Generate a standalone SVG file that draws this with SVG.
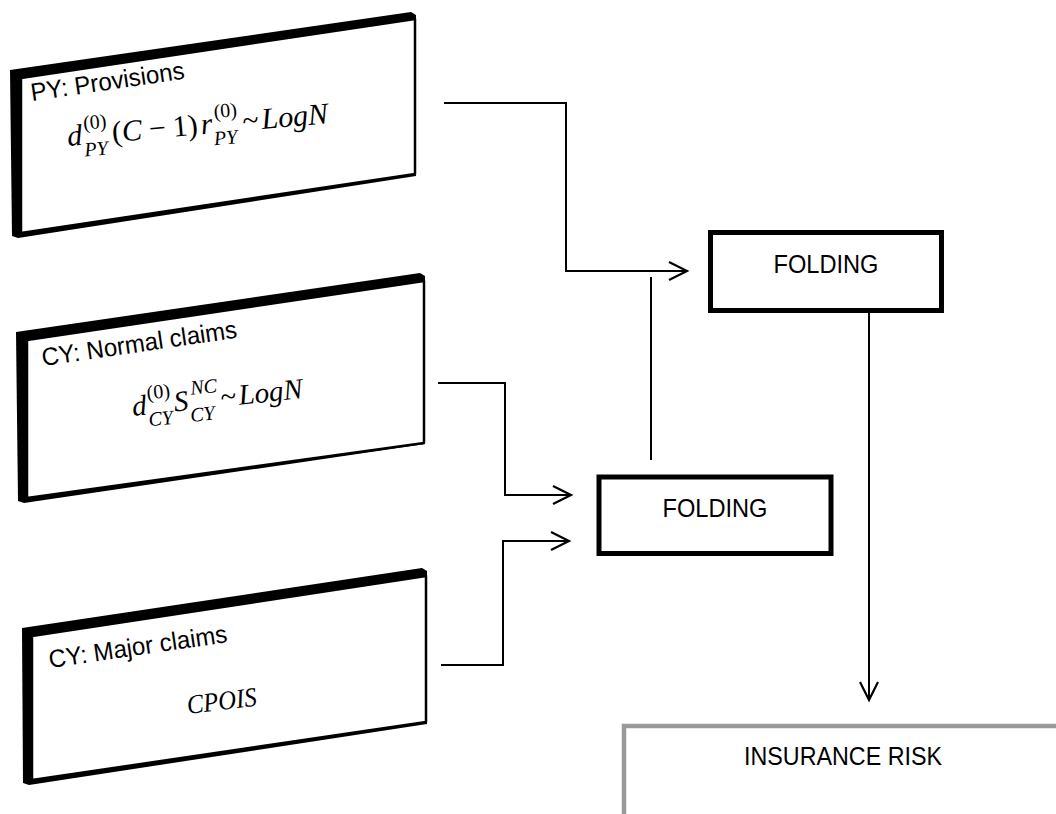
<svg xmlns="http://www.w3.org/2000/svg" width="1056" height="814" viewBox="0 0 1056 814">
  <defs>
    <marker id="chev" markerUnits="userSpaceOnUse" markerWidth="24" markerHeight="24" viewBox="-20 -12 24 24" refX="0" refY="0" orient="auto">
      <path d="M-18,-9 L0,0 L-18,9" fill="none" stroke="#000" stroke-width="2.2" stroke-linejoin="miter"/>
    </marker>
    <style>
      .back { fill: #000; }
      .face { fill: #fff; stroke: #000; stroke-width: 2.5; stroke-linejoin: round; }
      .lbl { font-family: "Liberation Sans", Arial, sans-serif; font-size: 25px; fill: #000; }
      .math { font-family: "Liberation Serif", "Times New Roman", serif; font-style: italic; font-size: 30px; fill: #000; }
      .up { font-style: normal; }
      .scr { font-size: 20px; }
      .conn { fill: none; stroke: #000; stroke-width: 2; }
      .fold { fill: #fff; stroke: #000; stroke-width: 5; }
      .risk { fill: #fff; stroke: #9a9a9a; stroke-width: 4.5; }
      .box-txt { font-family: "Liberation Sans", Arial, sans-serif; font-size: 25px; fill: #000; text-anchor: middle; }
    </style>
  </defs>

  <!-- prior-year provisions slab -->
  <g id="py-provisions">
    <polygon class="back" points="10,70 411,12 416,15 416,176 18,238 12,236"/>
    <polygon class="face" points="21,78 415,19 415,174 21,233"/>
    <text class="lbl" transform="translate(32,101) rotate(-8.3)" textLength="155" lengthAdjust="spacingAndGlyphs">PY: Provisions</text>
    <g class="math" transform="translate(68,146) rotate(-5)">
      <text x="0" y="0">d</text>
      <text class="up scr" x="17" y="-15">(0)</text>
      <text class="scr" x="16" y="12">PY</text>
      <text class="up" x="45" y="0">(</text>
      <text x="55" y="0">C</text>
      <text class="up" x="82" y="0">−</text>
      <text class="up" x="106" y="0">1</text>
      <text class="up" x="121" y="0">)</text>
      <text x="134" y="0">r</text>
      <text class="up scr" x="148" y="-15">(0)</text>
      <text class="scr" x="146" y="12">PY</text>
      <text class="up" x="176" y="0">~</text>
      <text x="195" y="0">LogN</text>
    </g>
  </g>

  <!-- current-year normal claims slab -->
  <g id="cy-normal">
    <polygon class="back" points="16,332 420,273 425,276 425,444 24,503 18,501"/>
    <polygon class="face" points="27,340 424,281 424,443 27,498"/>
    <text class="lbl" transform="translate(43,366) rotate(-8.3)" textLength="197" lengthAdjust="spacingAndGlyphs">CY: Normal claims</text>
    <g class="math" transform="translate(133,416) rotate(-6)" style="font-size:29px">
      <text x="0" y="0">d</text>
      <text class="up scr" x="16" y="-15">(0)</text>
      <text class="scr" x="15" y="12">CY</text>
      <text x="42" y="0">S</text>
      <text class="scr" x="60" y="-15">NC</text>
      <text class="scr" x="57" y="12">CY</text>
      <text class="up" x="89" y="0">~</text>
      <text x="107" y="0">LogN</text>
    </g>
  </g>

  <!-- current-year major claims slab -->
  <g id="cy-major">
    <polygon class="back" points="22,628 422,568 427,571 427,724 29,785 23,783"/>
    <polygon class="face" points="32,636 426,576 426,722 32,780"/>
    <text class="lbl" transform="translate(50,668) rotate(-8.3)" textLength="180" lengthAdjust="spacingAndGlyphs">CY: Major claims</text>
    <text class="math" transform="translate(188,714) rotate(-7)" style="font-size:27px" textLength="70" lengthAdjust="spacingAndGlyphs">CPOIS</text>
  </g>

  <!-- folding steps -->
  <g id="folding-upper">
    <rect class="fold" x="710.5" y="232.5" width="231" height="78"/>
    <text class="box-txt" x="826" y="273" textLength="105" lengthAdjust="spacingAndGlyphs">FOLDING</text>
  </g>
  <g id="folding-lower">
    <rect class="fold" x="599" y="477" width="232" height="76.5"/>
    <text class="box-txt" x="715" y="517" textLength="105" lengthAdjust="spacingAndGlyphs">FOLDING</text>
  </g>

  <!-- result box, running past the page edge -->
  <g id="insurance-risk">
    <rect class="risk" x="624" y="726" width="520" height="200"/>
    <text class="box-txt" x="843" y="765" textLength="198" lengthAdjust="spacingAndGlyphs">INSURANCE RISK</text>
  </g>

  <!-- connectors -->
  <g id="connectors">
    <path class="conn" d="M444,103 H566 V271 H687" marker-end="url(#chev)"/>
    <path class="conn" d="M438,383 H505 V495 H571" marker-end="url(#chev)"/>
    <path class="conn" d="M441,665 H503 V541 H569" marker-end="url(#chev)"/>
    <path class="conn" d="M651,460 V277"/>
    <path class="conn" d="M869,311 V700" marker-end="url(#chev)"/>
  </g>
</svg>
